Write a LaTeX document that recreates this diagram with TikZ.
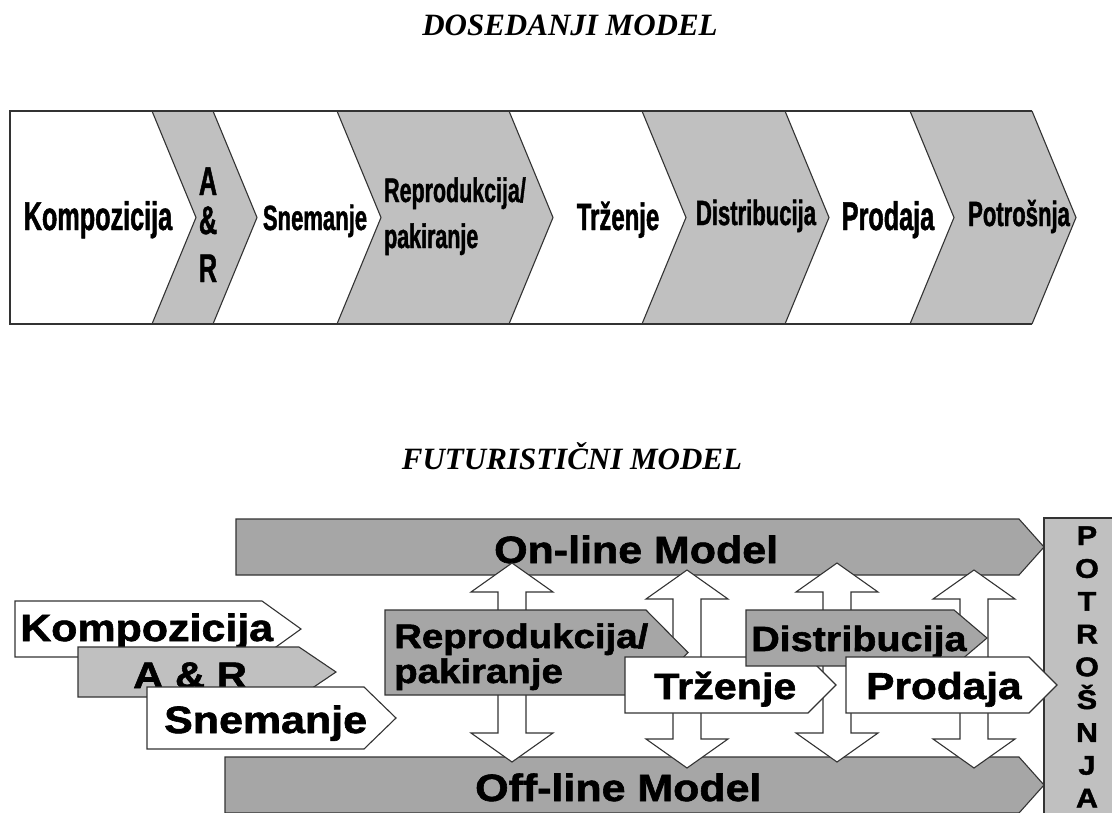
\documentclass[tikz,border=0pt]{standalone}
\usepackage{fontspec}
\setmainfont{Liberation Serif}
\newfontfamily\narrowsans[FakeStretch=0.63, FakeBold=1.2]{Liberation Sans}
\newfontfamily\widesans[FakeStretch=1.13, FakeBold=1.6]{Liberation Sans}
\definecolor{GRAYL}{HTML}{C0C0C0}
\definecolor{GRAYM}{HTML}{A6A6A6}
\definecolor{EDGE}{HTML}{333333}
\tikzset{
	every node/.style = {inner sep=0pt, text=black},
	heading/.style = {anchor=base, font=\fontsize{31}{31}\selectfont\bfseries\itshape},
	oldlbl/.style = {anchor=base, font=\narrowsans\bfseries\fontsize{#1}{#1}\selectfont},
	newlbl/.style = {anchor=base west, font=\widesans\bfseries\fontsize{#1}{#1}\selectfont},
	lineart/.style = {draw=EDGE, line width=1.1pt, line join=miter}
}

\begin{document}
\begin{tikzpicture}[x=1pt, y=-1pt]
		\useasboundingbox (0,0) rectangle (1112,812);
		% titles
		\node[heading] (oldtitle) at (570,35) {DOSEDANJI MODEL};
		\node[heading] (newtitle) at (572,469) {FUTURISTIČNI MODEL};
		% old chain: grey chevrons
		\foreach \l/\r in {152/213, 337/509, 642/785, 910/1032}
		      \fill[GRAYL] (\l,111) -- (\r,111) -- (\r+44,217.5) -- (\r,324)
		            -- (\l,324) -- (\l+44,217.5) -- cycle;
		\foreach \b in {152,213,337,509,642,785,910,1032}
		      \draw[lineart] (\b,111) -- (\b+44,217.5) -- (\b,324);
		% frame
		\draw[EDGE, line width=2.5pt] (1032,111) -- (10,111) -- (10,324) -- (1032,324);
		\node[oldlbl=40] (komp) at (98,230) {Kompozicija};
		\node[oldlbl=40] (ar1) at (208,195) {A};
		\node[oldlbl=40] (ar2) at (208,234) {\&};
		\node[oldlbl=40] (ar3) at (208,282) {R};
		\node[oldlbl=35] (snem) at (315,230) {Snemanje};
		\node[oldlbl=34, anchor=base west] (repro1) at (384,202) {Reprodukcija/};
		\node[oldlbl=34, anchor=base west] (repro2) at (384,248) {pakiranje};
		\node[oldlbl=38] (trz) at (618,230) {Trženje};
		\node[oldlbl=35] (dist) at (756,225) {Distribucija};
		\node[oldlbl=40] (prod) at (888,230) {Prodaja};
		\node[oldlbl=35] (potr) at (1019,226) {Potrošnja};
		% new model: on-line / off-line
		\filldraw[lineart, fill=GRAYM] (236,519) -- (1019,519) -- (1044,547) -- (1019,575)
		      -- (236,575) -- cycle;
		\filldraw[lineart, fill=GRAYM] (225,757) -- (1019,757) -- (1044,785) -- (1019,813)
		      -- (225,813) -- cycle;
		\node[newlbl=38] (online) at (494,563) {On-line Model};
		\node[newlbl=38] (offline) at (475,801) {Off-line Model};
		% consumption column
		\filldraw[lineart, fill=GRAYL] (1044,518) rectangle (1140,830);
		\foreach \ch [count=\i from 0] in {P,O,T,R,O,Š,N,J,A}
		      \node[newlbl=27, anchor=base] (potr\i) at (1087,545+32.8*\i) {\ch};
		% double arrows
		\foreach \x/\t/\b in {512/563/762, 687/570/768, 837/563/762, 974/570/768}
		      \filldraw[lineart, fill=white] (\x-14,\t+29) -- (\x-41,\t+29) -- (\x,\t)
		            -- (\x+41,\t+29) -- (\x+14,\t+29) -- (\x+14,\b-29) -- (\x+41,\b-29)
		            -- (\x,\b) -- (\x-41,\b-29) -- (\x-14,\b-29) -- cycle;
		% left stack
		\filldraw[lineart, fill=white] (15,601) -- (262,601) -- (301,629) -- (262,657)
		      -- (15,657) -- cycle;
		\node[newlbl=38] (kompnew) at (20,641) {Kompozicija};
		\filldraw[lineart, fill=GRAYL] (78,647) -- (299,647) -- (336,672) -- (299,697)
		      -- (78,697) -- cycle;
		\node[newlbl=37] (arnew) at (133,688) {A \& R};
		\filldraw[lineart, fill=white] (147,687) -- (364,687) -- (396,718) -- (364,749)
		      -- (147,749) -- cycle;
		\node[newlbl=38] (snemnew) at (164,733) {Snemanje};
		% middle tags
		\filldraw[lineart, fill=GRAYM] (385,610) -- (646,610) -- (688,652.5) -- (646,695)
		      -- (385,695) -- cycle;
		\node[newlbl=34] (repronew1) at (394,648) {Reprodukcija/};
		\node[newlbl=34] (repronew2) at (394,683) {pakiranje};
		\filldraw[lineart, fill=white] (625,657) -- (808,657) -- (836,685) -- (808,713)
		      -- (625,713) -- cycle;
		\node[newlbl=36.5] (trznew) at (654,699) {Trženje};
		\filldraw[lineart, fill=GRAYM] (746,610) -- (954,610) -- (987,638) -- (954,666)
		      -- (746,666) -- cycle;
		\node[newlbl=35] (distnew) at (751,651) {Distribucija};
		\filldraw[lineart, fill=white] (846,657) -- (1029,657) -- (1057,685) -- (1029,713)
		      -- (846,713) -- cycle;
		\node[newlbl=37.5] (prodnew) at (866,699) {Prodaja};
	\end{tikzpicture}
\end{document}
